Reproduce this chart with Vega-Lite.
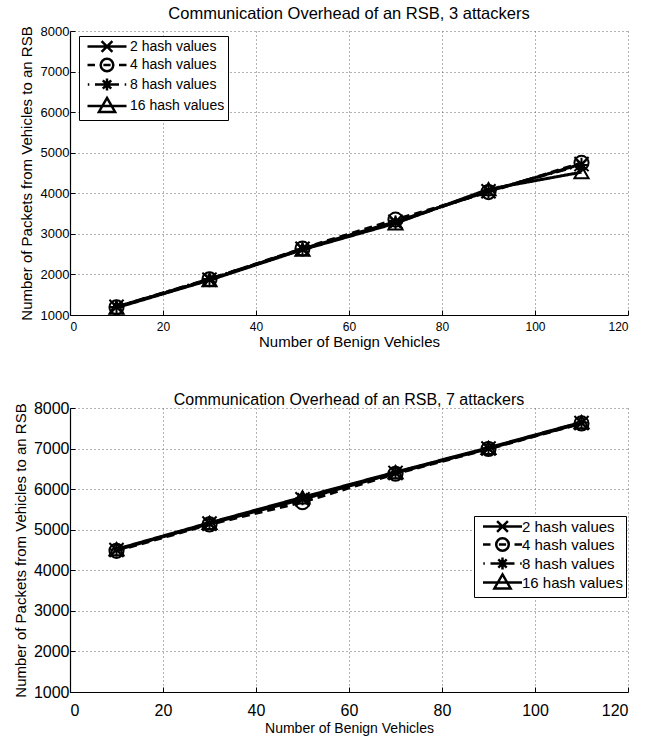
{
  "$schema": "https://vega.github.io/schema/vega-lite/v6.json",
  "background": "white",
  "padding": {"left": 13, "top": 5, "right": 5, "bottom": 2},
  "spacing": 43,
  "config": {
    "view": {"stroke": null},
    "axis": {
      "grid": true, "gridColor": "#666", "gridDash": [1, 3], "gridWidth": 1,
      "domainColor": "black", "domainWidth": 1.2, "tickColor": "black", "tickSize": -5, "tickWidth": 1,
      "labelColor": "black", "titleColor": "black", "titleFontWeight": "normal", "format": "d"
    },
    "title": {"color": "black", "fontWeight": "normal"}
  },
  "datasets": {
    "top": [
      {"series": "2 hash values", "x": 10, "y": 1200}, {"series": "2 hash values", "x": 30, "y": 1870}, {"series": "2 hash values", "x": 50, "y": 2630}, {"series": "2 hash values", "x": 70, "y": 3300}, {"series": "2 hash values", "x": 90, "y": 4050}, {"series": "2 hash values", "x": 110, "y": 4720},
      {"series": "4 hash values", "x": 10, "y": 1190}, {"series": "4 hash values", "x": 30, "y": 1880}, {"series": "4 hash values", "x": 50, "y": 2640}, {"series": "4 hash values", "x": 70, "y": 3350}, {"series": "4 hash values", "x": 90, "y": 4030}, {"series": "4 hash values", "x": 110, "y": 4750},
      {"series": "8 hash values", "x": 10, "y": 1200}, {"series": "8 hash values", "x": 30, "y": 1890}, {"series": "8 hash values", "x": 50, "y": 2620}, {"series": "8 hash values", "x": 70, "y": 3280}, {"series": "8 hash values", "x": 90, "y": 4060}, {"series": "8 hash values", "x": 110, "y": 4700},
      {"series": "16 hash values", "x": 10, "y": 1180}, {"series": "16 hash values", "x": 30, "y": 1860}, {"series": "16 hash values", "x": 50, "y": 2610}, {"series": "16 hash values", "x": 70, "y": 3260}, {"series": "16 hash values", "x": 90, "y": 4100}, {"series": "16 hash values", "x": 110, "y": 4520}
    ],
    "bottom": [
      {"series": "2 hash values", "x": 10, "y": 4500}, {"series": "2 hash values", "x": 30, "y": 5150}, {"series": "2 hash values", "x": 50, "y": 5750}, {"series": "2 hash values", "x": 70, "y": 6400}, {"series": "2 hash values", "x": 90, "y": 7000}, {"series": "2 hash values", "x": 110, "y": 7630},
      {"series": "4 hash values", "x": 10, "y": 4480}, {"series": "4 hash values", "x": 30, "y": 5130}, {"series": "4 hash values", "x": 50, "y": 5680}, {"series": "4 hash values", "x": 70, "y": 6380}, {"series": "4 hash values", "x": 90, "y": 6990}, {"series": "4 hash values", "x": 110, "y": 7620},
      {"series": "8 hash values", "x": 10, "y": 4510}, {"series": "8 hash values", "x": 30, "y": 5160}, {"series": "8 hash values", "x": 50, "y": 5780}, {"series": "8 hash values", "x": 70, "y": 6410}, {"series": "8 hash values", "x": 90, "y": 7010}, {"series": "8 hash values", "x": 110, "y": 7640},
      {"series": "16 hash values", "x": 10, "y": 4520}, {"series": "16 hash values", "x": 30, "y": 5170}, {"series": "16 hash values", "x": 50, "y": 5800}, {"series": "16 hash values", "x": 70, "y": 6420}, {"series": "16 hash values", "x": 90, "y": 7020}, {"series": "16 hash values", "x": 110, "y": 7650}
    ]
  },
  "resolve": {
    "scale": {"shape": "independent", "strokeDash": "independent"},
    "legend": {"shape": "independent", "strokeDash": "independent"}
  },
  "vconcat": [
    {
      "width": 558, "height": 284,
      "title": {"text": "Communication Overhead of an RSB, 3 attackers", "font": "Liberation Sans", "fontSize": 16.5, "offset": 3},
      "data": {"name": "top"},
      "layer": [
        {
          "mark": {"type": "line", "color": "black", "strokeWidth": 3},
          "encoding": {
            "x": {"field": "x", "type": "quantitative", "scale": {"domain": [0, 120], "nice": false},
                  "axis": {"values": [0, 20, 40, 60, 80, 100, 120], "title": "Number of Benign Vehicles", "titleFont": "Liberation Sans", "titleFontSize": 15, "labelFont": "Liberation Sans", "labelFontSize": 12, "labelPadding": 11, "titlePadding": 2}},
            "y": {"field": "y", "type": "quantitative", "scale": {"domain": [1000, 8000], "nice": false},
                  "axis": {"values": [1000, 2000, 3000, 4000, 5000, 6000, 7000, 8000], "title": "Number of Packets from Vehicles to an RSB", "titleFont": "Liberation Sans", "titleFontSize": 15, "labelFont": "Liberation Sans", "labelFontSize": 13, "labelPadding": 6, "titlePadding": 6}},
            "strokeDash": {"field": "series", "type": "nominal", "scale": {"domain": ["2 hash values", "4 hash values", "8 hash values", "16 hash values"], "range": [[1, 0], [8, 5], [10, 4, 2, 4], [1, 0]]}, "legend": null}
          }
        },
        {
          "mark": {"type": "point", "filled": false, "color": "black", "strokeWidth": 2, "size": 200, "opacity": 1},
          "encoding": {
            "x": {"field": "x", "type": "quantitative"},
            "y": {"field": "y", "type": "quantitative"},
            "shape": {"field": "series", "type": "nominal", "scale": {"domain": ["2 hash values", "4 hash values", "8 hash values", "16 hash values"], "range": ["M-1,-1L1,1M-1,1L1,-1", "circle", "M-1,0L1,0M0,-1L0,1M-0.7,-0.7L0.7,0.7M-0.7,0.7L0.7,-0.7", "triangle-up"]}, "legend": null}
          }
        },
        {
          "transform": [{"filter": "false"}],
          "mark": {"type": "point", "filled": false, "color": "black", "strokeWidth": 2.5, "opacity": 1},
          "encoding": {
            "shape": {"field": "series", "type": "nominal",
              "scale": {"domain": ["2 hash values", "4 hash values", "8 hash values", "16 hash values"],
                "range": [
                  "M-3.25,0L3.25,0M-0.9,-0.9L0.9,0.9M-0.9,0.9L0.9,-0.9",
                  "M-3.25,0L-2,0M-1.05,0A1.05,1.05 0 1,1 1.05,0A1.05,1.05 0 1,1 -1.05,0M-0.6,0L0.6,0M2,0L3.25,0",
                  "M-3.2,0L-2.95,0M-2,0L2,0M2.95,0L3.2,0M-1,0L1,0M0,-1L0,1M-0.7,-0.7L0.7,0.7M-0.7,0.7L0.7,-0.7",
                  "M-3.25,0L3.25,0M0,-1.35L1.35,1L-1.35,1Z"
                ]},
              "legend": {"orient": "none", "legendX": 9, "legendY": 5, "title": null, "strokeColor": "black", "fillColor": "white", "padding": 3, "symbolSize": 144, "symbolOffset": 17.5, "labelOffset": 15.5, "labelFont": "Liberation Sans", "labelFontSize": 14, "labelColor": "black", "symbolStrokeWidth": 2.5, "symbolStrokeColor": "black", "symbolFillColor": "transparent", "symbolOpacity": 1, "rowPadding": -3.5}
            }
          }
        }
      ],
      "resolve": {"scale": {"shape": "independent"}, "legend": {"shape": "independent"}}
    },
    {
      "width": 558, "height": 284,
      "title": {"text": "Communication Overhead of an RSB, 7 attackers", "font": "Liberation Sans", "fontSize": 16, "offset": -8},
      "data": {"name": "bottom"},
      "layer": [
        {
          "mark": {"type": "line", "color": "black", "strokeWidth": 3},
          "encoding": {
            "x": {"field": "x", "type": "quantitative", "scale": {"domain": [0, 120], "nice": false},
                  "axis": {"values": [0, 20, 40, 60, 80, 100, 120], "title": "Number of Benign Vehicles", "titleFont": "Liberation Sans", "titleFontSize": 14, "labelFont": "Liberation Sans", "labelFontSize": 16, "labelPadding": 15, "titlePadding": 3}},
            "y": {"field": "y", "type": "quantitative", "scale": {"domain": [1000, 8000], "nice": false},
                  "axis": {"values": [1000, 2000, 3000, 4000, 5000, 6000, 7000, 8000], "title": "Number of Packets from Vehicles to an RSB", "titleFont": "Liberation Sans", "titleFontSize": 15, "labelFont": "Liberation Sans", "labelFontSize": 16, "labelPadding": 6, "titlePadding": 5}},
            "strokeDash": {"field": "series", "type": "nominal", "scale": {"domain": ["2 hash values", "4 hash values", "8 hash values", "16 hash values"], "range": [[1, 0], [8, 5], [10, 4, 2, 4], [1, 0]]}, "legend": null}
          }
        },
        {
          "mark": {"type": "point", "filled": false, "color": "black", "strokeWidth": 2, "size": 200, "opacity": 1},
          "encoding": {
            "x": {"field": "x", "type": "quantitative"},
            "y": {"field": "y", "type": "quantitative"},
            "shape": {"field": "series", "type": "nominal", "scale": {"domain": ["2 hash values", "4 hash values", "8 hash values", "16 hash values"], "range": ["M-1,-1L1,1M-1,1L1,-1", "circle", "M-1,0L1,0M0,-1L0,1M-0.7,-0.7L0.7,0.7M-0.7,0.7L0.7,-0.7", "triangle-up"]}, "legend": null}
          }
        },
        {
          "transform": [{"filter": "false"}],
          "mark": {"type": "point", "filled": false, "color": "black", "strokeWidth": 2.5, "opacity": 1},
          "encoding": {
            "shape": {"field": "series", "type": "nominal",
              "scale": {"domain": ["2 hash values", "4 hash values", "8 hash values", "16 hash values"],
                "range": [
                  "M-3.25,0L3.25,0M-0.9,-0.9L0.9,0.9M-0.9,0.9L0.9,-0.9",
                  "M-3.25,0L-2,0M-1.05,0A1.05,1.05 0 1,1 1.05,0A1.05,1.05 0 1,1 -1.05,0M-0.6,0L0.6,0M2,0L3.25,0",
                  "M-3.2,0L-2.95,0M-2,0L2,0M2.95,0L3.2,0M-1,0L1,0M0,-1L0,1M-0.7,-0.7L0.7,0.7M-0.7,0.7L0.7,-0.7",
                  "M-3.25,0L3.25,0M0,-1.35L1.35,1L-1.35,1Z"
                ]},
              "legend": {"orient": "none", "legendX": 404, "legendY": 108, "title": null, "strokeColor": "black", "fillColor": "white", "padding": 3, "symbolSize": 144, "symbolOffset": 18, "labelOffset": 12, "labelFont": "Liberation Sans", "labelFontSize": 15, "labelColor": "black", "symbolStrokeWidth": 2.5, "symbolStrokeColor": "black", "symbolFillColor": "transparent", "symbolOpacity": 1, "rowPadding": -8.3}
            }
          }
        }
      ],
      "resolve": {"scale": {"shape": "independent"}, "legend": {"shape": "independent"}}
    }
  ]
}
